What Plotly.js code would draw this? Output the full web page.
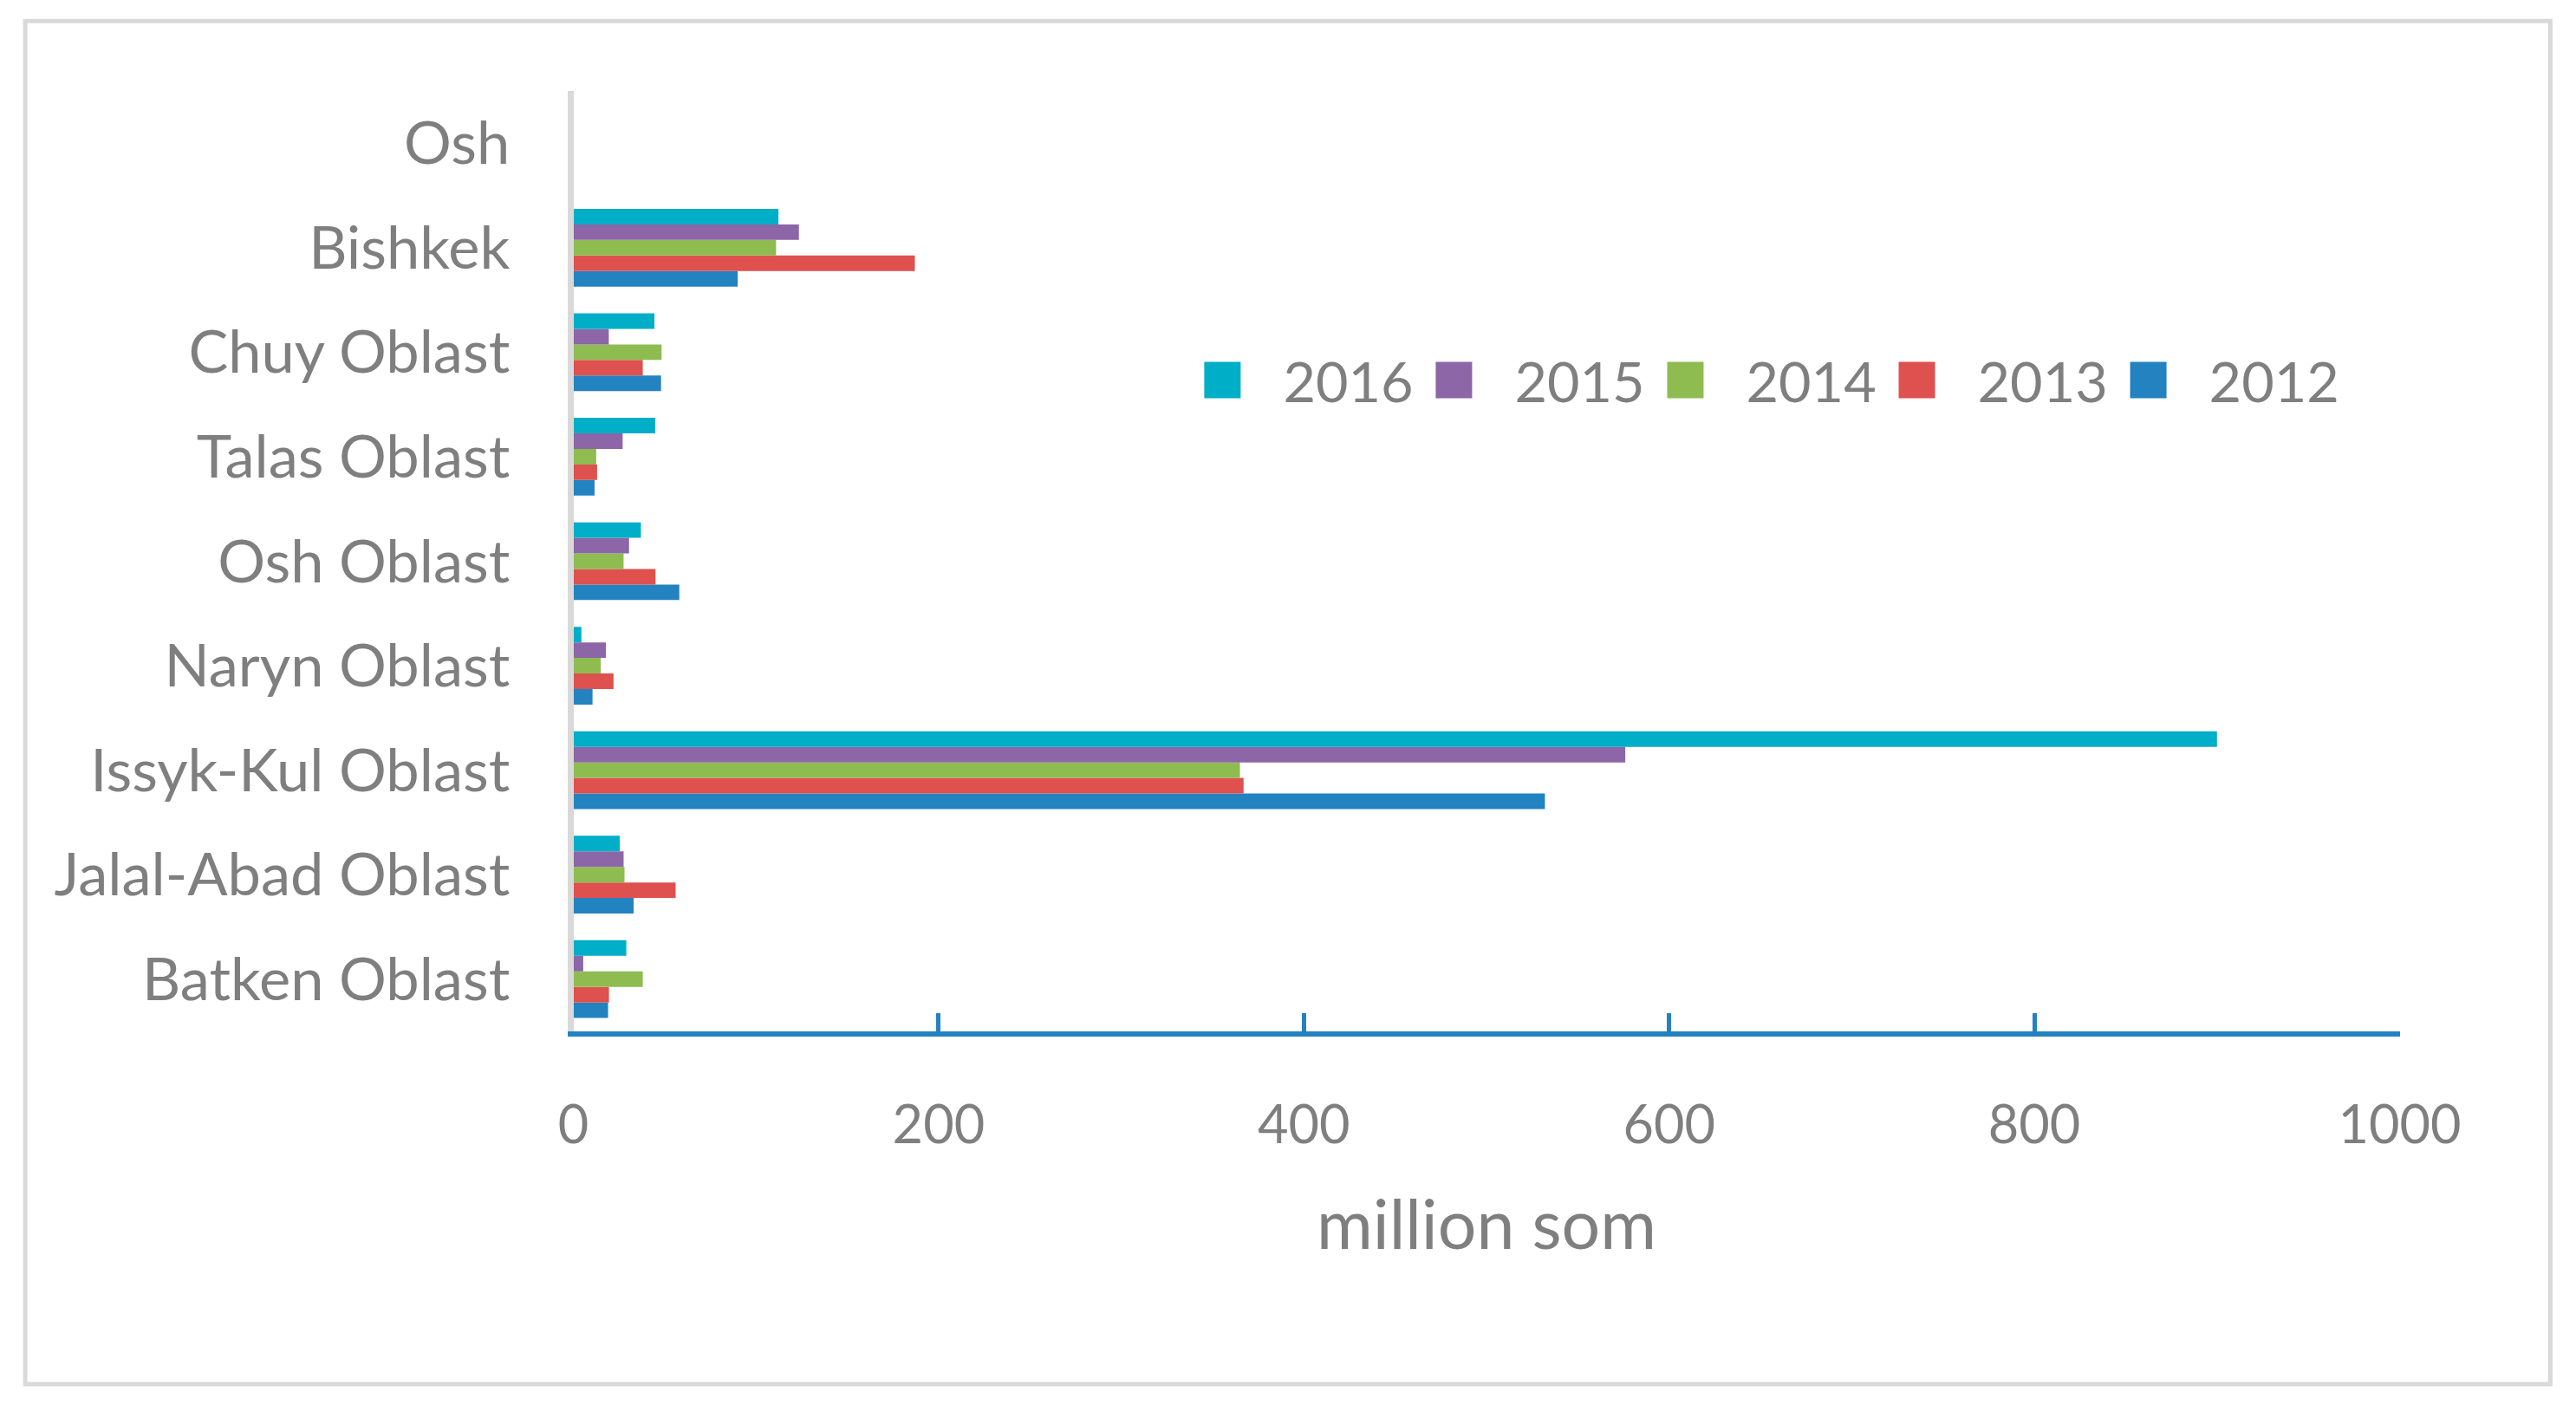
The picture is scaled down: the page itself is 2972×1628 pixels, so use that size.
<!DOCTYPE html>
<html>
<head>
<meta charset="utf-8">
<script src="https://cdn.plot.ly/plotly-3.0.1.min.js"></script>
<style>
  html, body { margin: 0; padding: 0; background: #ffffff; overflow: hidden; }
  #wrap { position: absolute; left: 0; top: 0; width: 2972px; height: 1628px; overflow: hidden; }
  #chart { position: absolute; left: 0; top: 0; transform-origin: 0 0; }
</style>
</head>
<body>
<div id="wrap"><div id="chart"></div></div>
<script>
// ---- data ----
const categories = ['Batken Oblast', 'Jalal-Abad Oblast', 'Issyk-Kul Oblast', 'Naryn Oblast',
                    'Osh Oblast', 'Talas Oblast', 'Chuy Oblast', 'Bishkek', 'Osh'];
const years = ['2012', '2013', '2014', '2015', '2016'];
const v2012 = [19, 33, 532, 10.5, 58, 11.6, 48, 90, 0];
const v2013 = [19.5, 56, 367, 22, 45, 13, 38, 187, 0];
const v2014 = [38, 28, 365, 15, 27.5, 12.5, 48.3, 111, 0];
const v2015 = [5.4, 27.5, 576, 17.8, 30.5, 27, 19.4, 123.5, 0];
const v2016 = [29, 25.4, 900, 4.4, 37, 44.8, 44.4, 112.3, 0];
const xTickVals = [0, 200, 400, 600, 800, 1000];
const xTitle = 'million som';

// ---- styling ----
const S = 3.5;                 // render scale (keeps legend swatches proportional)
const W = 2972 / S, H = 1628 / S;
const colors = ['#2382C0', '#DE514E', '#8EBC51', '#8C66A6', '#00AEC7'];
const textGray = '#7f7f7f';
const font = 'Lato, "Open Sans", sans-serif';
const series = [v2012, v2013, v2014, v2015, v2016];

document.getElementById('chart').style.width = W + 'px';
document.getElementById('chart').style.height = H + 'px';
document.getElementById('chart').style.transform = 'scale(' + S + ')';

const traces = series.map((vals, i) => ({
  type: 'bar',
  orientation: 'h',
  name: years[i],
  y: categories,
  x: vals,
  marker: { color: colors[i], line: { width: 0 } },
  legendwidth: i === 0 ? 50 : 31.3,
  hoverinfo: 'skip'
}));

const layout = {
  width: W,
  height: H,
  margin: { l: 660 / S, r: 203 / S, t: 104 / S, b: 436 / S, pad: 0 },
  paper_bgcolor: '#ffffff',
  plot_bgcolor: '#ffffff',
  barmode: 'group',
  bargap: 0.256,
  bargroupgap: 0,
  showlegend: true,
  legend: {
    orientation: 'h',
    traceorder: 'reversed',
    x: 0.3222, xanchor: 'left',
    y: 0.691, yanchor: 'middle',
    font: { family: font, size: 18.5, color: textGray },
    bgcolor: 'rgba(0,0,0,0)',
    borderwidth: 0,
    itemclick: false
  },
  xaxis: {
    range: [0, 1000],
    tickvals: xTickVals,
    ticktext: xTickVals.map(String),
    showgrid: false,
    zeroline: false,
    showline: true,
    linecolor: '#2382C0',
    linewidth: 6 / S,
    ticks: 'inside',
    ticklen: 21 / S,
    tickwidth: 5 / S,
    tickcolor: '#2382C0',
    ticklabelstandoff: 14,
    tickfont: { family: font, size: 17.5, color: textGray },
    title: { text: xTitle, font: { family: font, size: 22.5, color: textGray }, standoff: 16 },
    automargin: false,
    fixedrange: true
  },
  yaxis: {
    type: 'category',
    categoryorder: 'array',
    categoryarray: categories,
    range: [-0.5, categories.length - 0.5],
    showgrid: false,
    zeroline: false,
    showline: true,
    linecolor: '#d9d9d9',
    linewidth: 7 / S,
    ticks: '',
    ticklabelstandoff: 15,
    tickfont: { family: font, size: 19.6, color: textGray },
    automargin: false,
    fixedrange: true
  },
  shapes: [{
    type: 'rect', xref: 'paper', yref: 'paper',
    x0: (27 - 660) / 2109, x1: (2943 - 660) / 2109,
    y0: (1192 - 1600) / 1088, y1: (1192 - 23) / 1088,
    line: { color: '#d9d9d9', width: 5 / S },
    fillcolor: 'rgba(0,0,0,0)',
    layer: 'below'
  }]
};

Plotly.newPlot('chart', traces, layout, { staticPlot: true, displayModeBar: false, responsive: false });
</script>
</body>
</html>
